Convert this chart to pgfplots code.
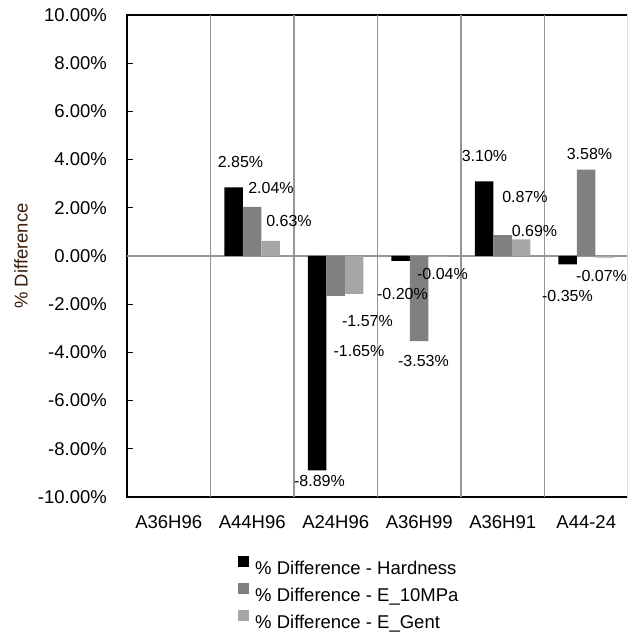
\documentclass[border=0pt]{standalone}
\usepackage{pgfplots}
\pgfplotsset{compat=1.18}
\usepackage{fontspec}
\setmainfont{Liberation Sans}
\definecolor{barA}{RGB}{0,0,0}
\definecolor{barB}{RGB}{128,128,128}
\definecolor{barC}{RGB}{166,166,166}
\definecolor{gridc}{RGB}{150,150,150}
\definecolor{ylab}{RGB}{60,30,10}
\newcommand{\tickfont}{\fontsize{18.5}{22}\selectfont}
\newcommand{\datafont}{\fontsize{16}{19}\selectfont}
\begin{document}
\begin{tikzpicture}
\path[use as bounding box] (-127pt,-140pt) rectangle (500pt,497pt);
\clip (-127pt,-140pt) rectangle (500pt,497pt);
\begin{axis}[
  at={(0pt,0pt)}, anchor=south west,
  scale only axis, width=501pt, height=482pt,
  xmin=-0.5, xmax=5.5, ymin=-10, ymax=10,
  ybar=0pt, bar width=18.5pt,
  xtick={0,...,5},
  xticklabels={A36H96,A44H96,A24H96,A36H99,A36H91,A44-24},
  xtick pos=bottom, ytick pos=left,
  major x tick style={draw=none},
  ytick={-10,-8,...,10},
  yticklabels={-10.00\%,-8.00\%,-6.00\%,-4.00\%,-2.00\%,0.00\%,2.00\%,4.00\%,6.00\%,8.00\%,10.00\%},
  tick align=inside, major tick length=6pt,
  ytick style={black, line width=1pt},
  y tick label style={font=\tickfont, anchor=east, inner sep=0pt, xshift=-20pt},
  x tick label style={font=\tickfont, anchor=north, inner sep=0pt, text height=13.5pt, yshift=-18pt},
  extra x ticks={0.5,1.5,2.5,3.5,4.5}, extra x tick labels={},
  extra x tick style={grid=major, major grid style={gridc, line width=1.3pt}, major tick length=0pt},
  extra y ticks={0}, extra y tick labels={},
  extra y tick style={grid=major, major grid style={gridc, line width=1.3pt}, major tick length=0pt},
  axis line style={black, line width=1.3pt},
  ylabel={\% Difference},
  ylabel style={font=\tickfont, color=ylab, at={(rel axis cs:0,0.5)}, anchor=center, yshift=106pt},
  legend style={at={(axis description cs:0.2216,-0.1215)}, anchor=north west, draw=none, fill=none,
    inner sep=0pt, font=\tickfont, row sep=7pt,
    nodes={inner sep=0pt, text height=14pt, text depth=1pt}},
  legend cell align=left,
  legend image code/.code={\fill[#1] (0pt,1.5pt) rectangle (11pt,12.5pt); \path (17pt,0pt);},
]
\addplot[fill=barA, draw=none] coordinates {(1,2.85) (2,-8.89) (3,-0.20) (4,3.10) (5,-0.35)};
\addplot[fill=barB, draw=none] coordinates {(1,2.04) (2,-1.65) (3,-3.53) (4,0.87) (5,3.58)};
\addplot[fill=barC, draw=none] coordinates {(1,0.63) (2,-1.57) (3,-0.04) (4,0.69) (5,-0.07)};
\legend{\% Difference - Hardness, \% Difference - E\_10MPa, \% Difference - E\_Gent}
\begin{scope}[every node/.style={font=\datafont, inner sep=0pt}]
\node at (axis cs:0.859,3.88) {2.85\%};
\node at (axis cs:1.2246,2.82) {2.04\%};
\node at (axis cs:1.440,1.452) {0.63\%};
\node at (axis cs:1.805,-9.34) {-8.89\%};
\node at (axis cs:2.278,-3.921) {-1.65\%};
\node at (axis cs:2.380,-2.697) {-1.57\%};
\node at (axis cs:2.799,-1.556) {-0.20\%};
\node at (axis cs:3.051,-4.336) {-3.53\%};
\node at (axis cs:3.278,-0.747) {-0.04\%};
\node at (axis cs:3.781,4.15) {3.10\%};
\node at (axis cs:4.266,2.43) {0.87\%};
\node at (axis cs:4.380,1.037) {0.69\%};
\node at (axis cs:4.775,-1.66) {-0.35\%};
\node at (axis cs:5.039,4.253) {3.58\%};
\node at (axis cs:5.183,-0.83) {-0.07\%};
\end{scope}
\end{axis}
\end{tikzpicture}
\end{document}
